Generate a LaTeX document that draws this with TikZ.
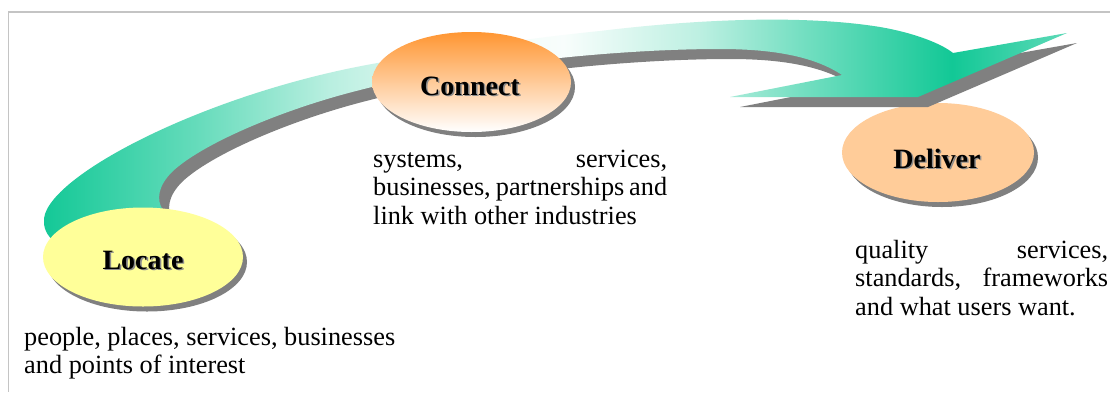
\documentclass[tikz,border=0pt]{standalone}
\usepackage{fontspec}
\setmainfont{Liberation Serif}
\usetikzlibrary{shapes.geometric,shadows}
\definecolor{bandgreen}{RGB}{18,200,150}
\definecolor{shadowgray}{RGB}{128,128,128}
\definecolor{framegray}{RGB}{196,196,196}
\definecolor{locfill}{RGB}{255,255,153}
\definecolor{delfill}{RGB}{255,204,153}
\definecolor{conorange}{RGB}{255,150,50}
\pgfdeclarehorizontalshading{bandshade}{100bp}{%
  color(0bp)=(bandgreen); color(25bp)=(bandgreen);
  color(32.6bp)=(bandgreen!65); color(39bp)=(bandgreen!30);
  color(45bp)=(bandgreen!8); color(50.5bp)=(bandgreen!3);
  color(57.1bp)=(bandgreen!28); color(62bp)=(bandgreen!58);
  color(69.4bp)=(bandgreen); color(75bp)=(bandgreen!68);
  color(100bp)=(bandgreen!68)}
\newcommand\bandpath{%
  (60,246) .. controls (48,238) and (44,230) .. (44,222)
  .. controls (40,180) and (200,95) .. (372,64)
  .. controls (450,50) and (530,38) .. (600,31)
  .. controls (690,20) and (800,14) .. (880,27)
  .. controls (915,33) and (942,44) .. (953,53)
  -- (1067,33) -- (918,97) -- (730,97) -- (842,75)
  .. controls (815,57) and (775,49) .. (720,49)
  .. controls (640,49) and (540,58) .. (470,70)
  .. controls (420,78) and (390,82) .. (360,90)
  .. controls (280,110) and (200,145) .. (172,172)
  .. controls (158,186) and (156,200) .. (163,210)
  -- (120,250) -- cycle}
\tikzset{
  oval/.style={ellipse, draw=none, inner sep=0,
    drop shadow={shadow xshift=4pt, shadow yshift=-5pt, fill=shadowgray, opacity=1}},
  lbl/.style={anchor=base, inner sep=0, font=\bfseries\fontsize{28}{30}\selectfont},
  lblshadow/.style={lbl, text=black!45},
  bodytext/.style={anchor=base west, inner sep=0, font=\fontsize{26.3}{28.5}\selectfont},
  framelines/.style={draw=framegray, line width=1.5pt}
}
\begin{document}
\begin{tikzpicture}[x=1pt,y=-1pt]
\useasboundingbox (0,0) rectangle (1110,392);
\fill[white] (0,0) rectangle (1110,392);
\coordinate (ftop) at (1110,12);
\coordinate (fcorner) at (8.5,12);
\coordinate (fbottom) at (8.5,392);
\draw[framelines] (ftop) -- (fcorner) -- (fbottom);
% Deliver oval (behind the arrow)
\node[oval, fill=delfill, minimum width=192pt, minimum height=99pt] (del) at (938,152.5) {};
% arrow band
\begin{scope}[shift={(10,10)}]
  \fill[shadowgray] \bandpath;
\end{scope}
\shade[shading=bandshade] \bandpath;
% Locate and Connect ovals
\node[oval, fill=locfill, minimum width=200pt, minimum height=99pt] (loc) at (143,257) {};
\node[oval, top color=conorange, bottom color=white, minimum width=199pt, minimum height=100pt] (con) at (471.5,82) {};
% labels
\node[lblshadow] (locs) at (144.5,270.5) {Locate};
\node[lbl] (locl) at (143,269) {Locate};
\node[lblshadow] (cons) at (471.5,96.5) {Connect};
\node[lbl] (conl) at (470,95) {Connect};
\node[lblshadow] (dels) at (938.5,169.5) {Deliver};
\node[lbl] (dell) at (937,168) {Deliver};
% texts
\node[bodytext] (loct) at (24,345) {\parbox[t]{380pt}{people, places, services, businesses\\ and points of interest}};
\node[bodytext] (cont) at (373,167) {\parbox[t]{294pt}{\makebox[294pt][s]{systems, services,}\\ \makebox[294pt][s]{businesses, partnerships and}\\ link with other industries}};
\node[bodytext] (delt) at (855,258) {\parbox[t]{253pt}{\makebox[253pt][s]{quality services,}\\ \makebox[253pt][s]{standards, frameworks}\\ and what users want.}};
\end{tikzpicture}
\end{document}
